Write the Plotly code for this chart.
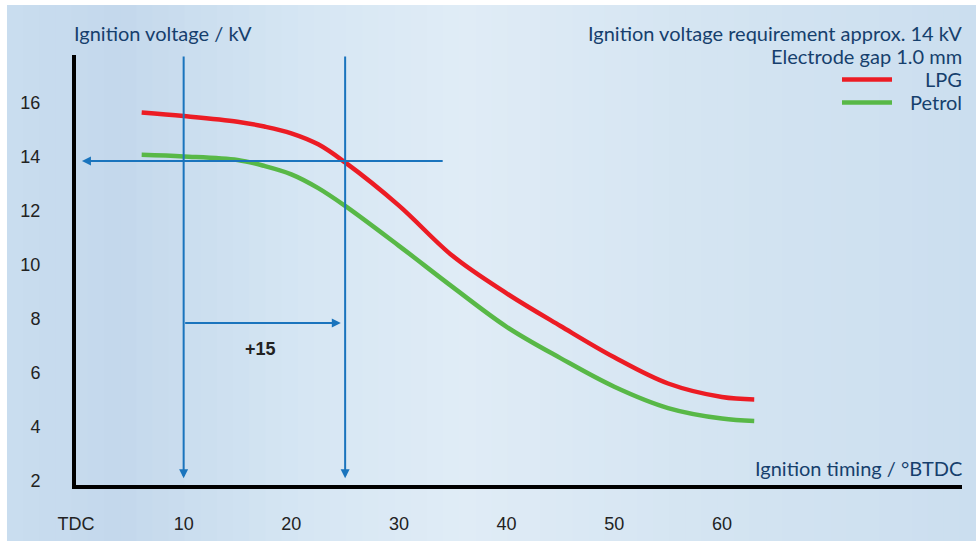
import plotly.graph_objects as go

# ---- data ----
lpg_x = [6.1, 10, 15, 17.5, 20, 22.5, 25, 30, 35, 40, 45, 50, 55, 60, 63]
lpg_y = [15.80, 15.67, 15.46, 15.28, 15.03, 14.62, 13.95, 12.35, 10.48, 9.10, 7.89, 6.73, 5.76, 5.26, 5.17]

petrol_x = [6.1, 10, 15, 17.5, 20, 22.5, 25, 30, 35, 40, 45, 50, 55, 60, 63]
petrol_y = [14.23, 14.17, 14.04, 13.82, 13.51, 13.00, 12.34, 10.86, 9.33, 7.86, 6.70, 5.64, 4.85, 4.46, 4.37]

x_tick_vals = [0, 10, 20, 30, 40, 50, 60]
x_tick_text = ["TDC", "10", "20", "30", "40", "50", "60"]
y_tick_vals = [2, 4, 6, 8, 10, 12, 14, 16]

requirement_kv = 14        # ignition voltage requirement
timing_petrol = 10         # °BTDC where petrol reaches requirement
timing_lpg = 25            # °BTDC where LPG reaches requirement
advance_label = "+15"

x_range = [0, 82.3]
y_range = [2, 17.93]

# ---- styles ----
RED = "#ec1c24"
GREEN = "#58b847"
BLUE = "#1a74bd"
NAVY = "#163f6d"
TICK = "#222222"
TITLE_FONT = "Lato"
TITLE_SIZE = 20
TICK_FONT = "Liberation Sans"

fig = go.Figure()

fig.add_trace(go.Scatter(x=lpg_x, y=lpg_y, mode="lines", name="LPG",
                         line=dict(color=RED, width=4.5, shape="spline", smoothing=1.0),
                         showlegend=False, hoverinfo="skip"))
fig.add_trace(go.Scatter(x=petrol_x, y=petrol_y, mode="lines", name="Petrol",
                         line=dict(color=GREEN, width=4.5, shape="spline", smoothing=1.0),
                         showlegend=False, hoverinfo="skip"))

shapes = []
# background gradient (decoration) in paper coordinates
x0p, x1p = -0.0779, 1.0158
y0p, y1p = -0.1302, 1.1163
stops = [(0.0, (201, 221, 239)), (0.12, (196, 216, 236)), (0.3, (213, 230, 243)),
         (0.47, (224, 236, 246)), (0.7, (213, 229, 242)), (1.0, (203, 222, 239))]
n = 60
def interp(t):
    for (ta, ca), (tb, cb) in zip(stops[:-1], stops[1:]):
        if ta <= t <= tb:
            f = (t - ta) / (tb - ta) if tb > ta else 0
            return tuple(int(round(a + (b - a) * f)) for a, b in zip(ca, cb))
    return stops[-1][1]
for i in range(n):
    t = (i + 0.5) / n
    c = interp(t)
    xa = x0p + (x1p - x0p) * i / n
    xb = x0p + (x1p - x0p) * (i + 1) / n + 0.002
    shapes.append(dict(type="rect", xref="paper", yref="paper", x0=xa, x1=xb, y0=y0p, y1=y1p,
                       fillcolor=f"rgb{c}", line=dict(width=0), layer="below"))

def px2paper_x(px):
    return (px - 76) / 886
def px2paper_y(py):
    return (485 - py) / 430

# legend line samples
shapes.append(dict(type="line", xref="paper", yref="paper", x0=px2paper_x(842), x1=px2paper_x(892),
                   y0=px2paper_y(79.5), y1=px2paper_y(79.5), line=dict(color=RED, width=4.5)))
shapes.append(dict(type="line", xref="paper", yref="paper", x0=px2paper_x(842), x1=px2paper_x(892),
                   y0=px2paper_y(102.5), y1=px2paper_y(102.5), line=dict(color=GREEN, width=4.5)))

annotations = []
def arrow(x, y, ax, ay):
    annotations.append(dict(x=x, y=y, ax=ax, ay=ay, xref="x", yref="y", axref="x", ayref="y",
                            text="", showarrow=True, arrowhead=2, arrowsize=0.9, arrowwidth=2,
                            arrowcolor=BLUE, standoff=0, startstandoff=0))
arrow(timing_petrol, 2.25, timing_petrol, y_range[1])
arrow(timing_lpg, 2.25, timing_lpg, y_range[1])
arrow(0.55, requirement_kv, 34.2, requirement_kv)
arrow(24.6, 8, timing_petrol, 8)

annotations.append(dict(x=17.1, y=7.05, xref="x", yref="y", text=f"<b>{advance_label}</b>",
                        showarrow=False, font=dict(family=TICK_FONT, size=18, color=TICK)))

annotations.append(dict(x=px2paper_x(72), y=px2paper_y(33), xref="paper", yref="paper",
                        xanchor="left", yanchor="middle", showarrow=False,
                        text="Ignition voltage / kV", font=dict(family=TITLE_FONT, size=TITLE_SIZE, color=NAVY)))
annotations.append(dict(x=px2paper_x(964), y=px2paper_y(468), xref="paper", yref="paper",
                        xanchor="right", yanchor="middle", showarrow=False,
                        text="Ignition timing / °BTDC", font=dict(family=TITLE_FONT, size=TITLE_SIZE, color=NAVY)))
for txt, py in [("Ignition voltage requirement approx. 14 kV", 33),
                ("Electrode gap 1.0 mm", 56.5),
                ("LPG", 79.5),
                ("Petrol", 102)]:
    annotations.append(dict(x=px2paper_x(964), y=px2paper_y(py), xref="paper", yref="paper",
                            xanchor="right", yanchor="middle", showarrow=False,
                            text=txt, font=dict(family=TITLE_FONT, size=TITLE_SIZE, color=NAVY)))

fig.update_layout(
    width=976, height=545,
    margin=dict(l=76, r=14, t=55, b=60),
    paper_bgcolor="white", plot_bgcolor="rgba(0,0,0,0)",
    shapes=shapes, annotations=annotations,
    xaxis=dict(range=x_range, tickvals=x_tick_vals, ticktext=x_tick_text,
               showgrid=False, zeroline=False, showline=True, linecolor="black", linewidth=4,
               ticks="outside", ticklen=19, tickcolor="rgba(0,0,0,0)",
               tickfont=dict(family=TICK_FONT, size=18, color=TICK), fixedrange=True),
    yaxis=dict(range=y_range, tickvals=y_tick_vals,
               showgrid=False, zeroline=False, showline=True, linecolor="black", linewidth=4,
               ticks="outside", ticklen=28, tickcolor="rgba(0,0,0,0)", ticklabelshift=-4,
               tickfont=dict(family=TICK_FONT, size=18, color=TICK), fixedrange=True),
    showlegend=False,
)

fig.write_html("out.html", config={"displayModeBar": False},
               post_script="document.body.style.margin='0';document.body.style.overflow='hidden';")
